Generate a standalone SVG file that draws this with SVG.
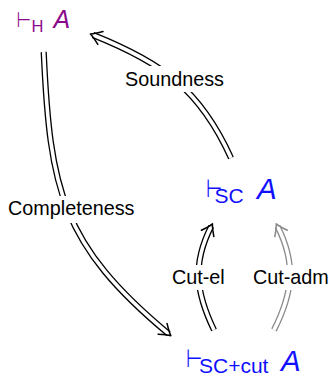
<svg xmlns="http://www.w3.org/2000/svg" width="329" height="377" viewBox="0 0 329 377">
<style>
.outer{fill:none;stroke-width:6.2;stroke-linecap:butt}
.inner{fill:none;stroke:#fff;stroke-width:3.6;stroke-linecap:butt}
.blk{stroke:#000}
.gry{stroke:#8a8a8a}
.lbl{font-family:"Liberation Sans",Arial,sans-serif;font-size:19.8px;fill:#000}
.bg{fill:#fff}
.sym{font-family:"DejaVu Sans",sans-serif;letter-spacing:-9px}
.sub{font-family:"Liberation Sans",Arial,sans-serif}
.it{font-family:"Liberation Sans",Arial,sans-serif;font-style:italic}
.purple{fill:#8b0a8b}
.blue{fill:#1010ff}
</style>
<defs>
<marker id="impB" markerUnits="userSpaceOnUse" markerWidth="24" markerHeight="24" viewBox="-12 -12 24 24" refX="0" refY="0" orient="auto" overflow="visible">
<path d="M-8,-7 Q-1,-1.7 2.8,0 Q-1,1.7 -8,7" fill="none" stroke="#000" stroke-width="1.5" stroke-linecap="round" stroke-linejoin="round"/>
</marker>
<marker id="impG" markerUnits="userSpaceOnUse" markerWidth="24" markerHeight="24" viewBox="-12 -12 24 24" refX="0" refY="0" orient="auto" overflow="visible">
<path d="M-8,-7 Q-1,-1.7 2.8,0 Q-1,1.7 -8,7" fill="none" stroke="#8a8a8a" stroke-width="1.5" stroke-linecap="round" stroke-linejoin="round"/>
</marker>
</defs>
<g id="connectors">
<g id="completeness">
<path class="outer blk" d="M43.7,52 C50,190 61.2,244.3 168.7,333.9"/>
<path class="inner" d="M43.7,52 C50,190 61.2,244.3 168.7,333.9" marker-end="url(#impB)"/>
</g>
<g id="soundness">
<path class="outer blk" d="M231,158 C200.2,89.8 162.8,62.8 93,35"/>
<path class="inner" d="M231,158 C200.2,89.8 162.8,62.8 93,35" marker-end="url(#impB)"/>
</g>
<g id="cut-el">
<path class="outer blk" d="M214,330 C195.6,291.6 192.3,263.7 211.2,226.3"/>
<path class="inner" d="M214,330 C195.6,291.6 192.3,263.7 211.2,226.3" marker-end="url(#impB)"/>
</g>
<g id="cut-adm">
<path class="outer gry" d="M274,330 C292.9,292.6 296.4,263.7 277.5,226.3"/>
<path class="inner" d="M274,330 C292.9,292.6 296.4,263.7 277.5,226.3" marker-end="url(#impG)"/>
</g>
<g id="edge-labels">
<rect class="bg" x="121" y="66" width="106" height="26"/>
<text class="lbl" x="125" y="86">Soundness</text>
<rect class="bg" x="4" y="196" width="136" height="27"/>
<text class="lbl" x="8" y="215">Completeness</text>
<rect class="bg" x="169" y="265" width="59" height="25"/>
<text class="lbl" x="172" y="284">Cut-el</text>
<rect class="bg" x="249" y="265" width="80" height="25"/>
<text class="lbl" x="253" y="284">Cut-adm</text>
</g>
</g>
<g id="node-H" class="purple">
<text class="sym" transform="translate(16.5,27) scale(0.8,1)" font-size="21">⊢</text>
<text class="sub" x="31.5" y="32" font-size="16.5">H</text>
<text class="it" x="53.5" y="28" font-size="25">A</text>
</g>
<g id="node-SC" class="blue">
<text class="sym" transform="translate(206,197) scale(0.75,1)" font-size="25">⊢</text>
<text class="sub" x="214.5" y="202.7" font-size="21">SC</text>
<text class="it" x="257" y="199" font-size="29.5">A</text>
</g>
<g id="node-SCcut" class="blue">
<text class="sym" transform="translate(186,366.7) scale(0.75,1)" font-size="25">⊢</text>
<text class="sub" x="199" y="373.3" font-size="21">SC+cut</text>
<text class="it" x="281" y="370.7" font-size="29.5">A</text>
</g>
</svg>
